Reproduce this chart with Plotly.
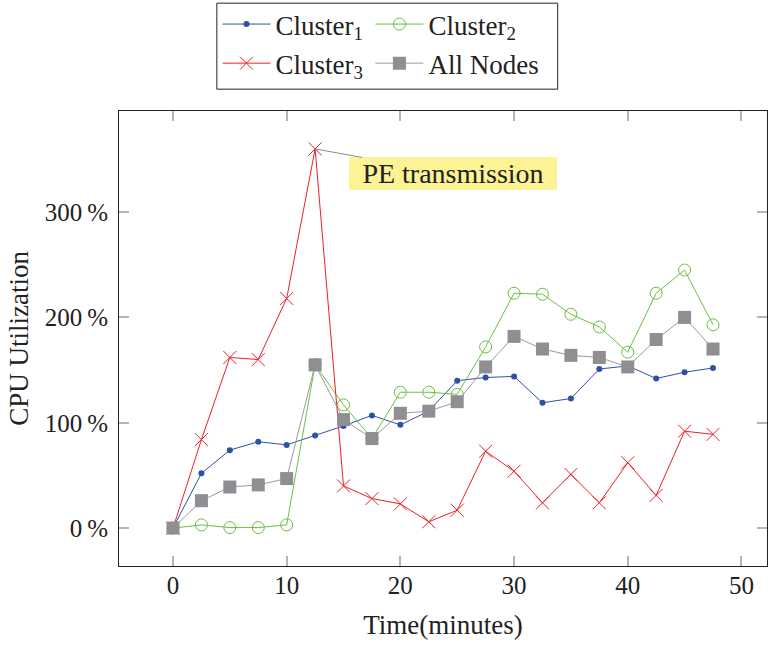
import plotly.graph_objects as go

time_min = [0, 2.5, 5, 7.5, 10, 12.5, 15, 17.5, 20, 22.5, 25, 27.5, 30, 32.5, 35, 37.5, 40, 42.5, 45, 47.5]
cluster1 = [0, 52, 74, 82, 79, 88, 97, 107, 98, 111, 140, 143, 144, 119, 123, 151, 154, 142, 148, 152]
cluster2 = [0, 3, 0.5, 0.5, 3, 155, 117, 85, 129, 129, 127, 172, 223, 222, 203, 191, 167, 223, 245, 193]
cluster3 = [0, 84, 162, 160, 218, 360, 40, 28, 23, 6, 17, 73, 54, 24, 51, 24, 62, 31, 92, 89]
all_nodes = [0, 26, 39, 41, 47, 155, 103, 85, 109, 111, 120, 153, 182, 170, 164, 162, 153, 179, 200, 170]

y_ticks = [0, 100, 200, 300]
y_ticklabels = [f"{v}\u2009%" for v in y_ticks]
x_ticks = [0, 10, 20, 30, 40, 50]
annot_text = "PE transmission"
annot_idx = 5

FONT = "Liberation Serif"
FS_TICK = 25
FS = 27
TXT = "#222222"

fig = go.Figure()
fig.add_trace(go.Scatter(x=time_min, y=cluster1, mode="lines+markers", name="Cluster<sub>1</sub>",
                         legend="legend", legendgroup="c1",
                         line=dict(color="#3050a5", width=1),
                         marker=dict(symbol="circle", size=6, color="#3050a5")))
fig.add_trace(go.Scatter(x=time_min, y=cluster2, mode="lines+markers", name="Cluster<sub>2</sub>",
                         legend="legend2", legendgroup="c2",
                         line=dict(color="#6cc040", width=1),
                         marker=dict(symbol="circle-open", size=12, color="#6cc040", line=dict(width=1))))
fig.add_trace(go.Scatter(x=time_min, y=cluster3, mode="lines+markers", name="Cluster<sub>3</sub>",
                         legend="legend", legendgroup="c3",
                         line=dict(color="#ee2028", width=1),
                         marker=dict(symbol="x-thin", size=13, color="#ee2028",
                                     line=dict(color="#ee2028", width=1))))
fig.add_trace(go.Scatter(x=time_min, y=all_nodes, mode="lines+markers", name="All Nodes",
                         legend="legend2", legendgroup="all",
                         line=dict(color="#9a9a9a", width=1),
                         marker=dict(symbol="square", size=13, color="#8f8f93")))

fig.add_annotation(x=time_min[annot_idx], y=cluster3[annot_idx], text=annot_text,
                   showarrow=True, arrowhead=0, arrowcolor="#8a8a8a", arrowwidth=1,
                   ax=138, ay=25, standoff=0,
                   width=202, height=27, borderpad=3, borderwidth=0,
                   bgcolor="#fdf394",
                   font=dict(family=FONT, size=28, color=TXT))

axis_common = dict(showline=True, linecolor="#222", linewidth=1, mirror="allticks",
                   ticks="inside", ticklen=10, tickcolor="#b5b5b5", tickwidth=1.5,
                   showgrid=False, zeroline=False,
                   tickfont=dict(family=FONT, size=FS_TICK, color=TXT))

fig.update_xaxes(range=[-4.75, 52.25], tickvals=x_ticks, ticklabelstandoff=-3,
                 title=dict(text="Time(minutes)", font=dict(family=FONT, size=FS, color=TXT), standoff=17),
                 **axis_common)
fig.update_yaxes(range=[-36, 396], tickmode="array", tickvals=y_ticks, ticktext=y_ticklabels,
                 ticklabelstandoff=5,
                 title=dict(text="CPU Utilization", font=dict(family=FONT, size=FS, color=TXT), standoff=8),
                 **axis_common)

leg_common = dict(orientation="v", yanchor="top", xanchor="left", y=1.243,
                  bgcolor="rgba(0,0,0,0)", borderwidth=0, tracegroupgap=1, itemwidth=48,
                  font=dict(family=FONT, size=FS, color=TXT))

# legend frame (drawn around both legend columns)
fig.add_shape(type="rect", xref="paper", yref="paper",
              x0=0.151, x1=0.677, y0=1.048, y1=1.237,
              line=dict(color="#222", width=1), fillcolor="white", layer="below")

fig.update_layout(
    width=768, height=647,
    margin=dict(l=119, r=1, t=110, b=81),
    paper_bgcolor="white", plot_bgcolor="white",
    font=dict(family=FONT, size=FS, color=TXT),
    legend=dict(x=0.152, **leg_common),
    legend2=dict(x=0.388, **leg_common),
    showlegend=True,
)

fig.write_html("out.html")
